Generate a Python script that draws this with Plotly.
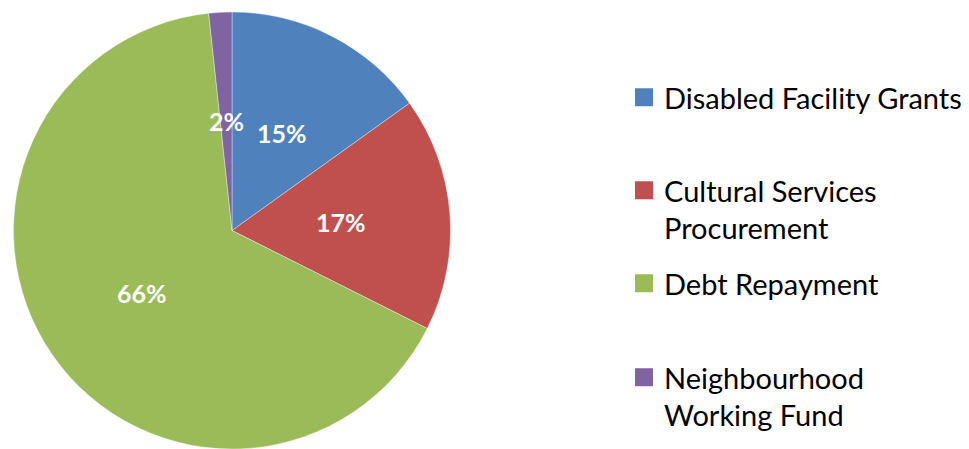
import math
import plotly.graph_objects as go

categories = ["Disabled Facility Grants", "Cultural Services<br>Procurement",
              "Debt Repayment", "Neighbourhood<br>Working Fund"]
values = [15.1, 17.3, 65.9, 1.7]
colors = ["#4F81BD", "#C0504D", "#9BBB59", "#8064A2"]

W, H = 969, 449
R = 218.5
CX, TOP = 232, 12
dom_x = [(CX - R) / W, (CX + R) / W]
dom_y = [1 - (TOP + 2 * R) / H, 1 - TOP / H]

fig = go.Figure(go.Pie(
    labels=categories,
    values=values,
    sort=False,
    direction="clockwise",
    rotation=0,
    marker=dict(colors=colors, line=dict(color="rgba(255,255,255,0.45)", width=0.8)),
    textinfo="none",
    hoverinfo="label+percent",
    showlegend=False,
    domain=dict(x=dom_x, y=dom_y),
))

# percentage labels at half radius along each slice's mid-angle
cx = (dom_x[0] + dom_x[1]) / 2
cy = (dom_y[0] + dom_y[1]) / 2
r_px = min((dom_x[1] - dom_x[0]) * W, (dom_y[1] - dom_y[0]) * H) / 2
total = sum(values)
cum = 0
for v in values:
    mid = (cum + v / 2) / total * 2 * math.pi
    cum += v
    dx = 0.5 * r_px * math.sin(mid) / W
    dy = 0.5 * r_px * math.cos(mid) / H
    fig.add_annotation(x=cx + dx, y=cy + dy, xref="paper", yref="paper",
                       xanchor="center", yanchor="middle",
                       text=f"{round(v / total * 100)}%", showarrow=False,
                       font=dict(family="Lato", size=25, color="white", weight="bold"))

# legend: one entry per category, each in its own evenly spaced legend box
legend_tops = [72, 165, 258, 352]
legend_font = dict(family="Lato", size=29, color="black")
layout_legends = {}
for i, (name, col) in enumerate(zip(categories, colors)):
    key = "legend" if i == 0 else f"legend{i + 1}"
    fig.add_trace(go.Scatter(
        x=[None], y=[None], mode="markers", name=name, legend=key,
        marker=dict(symbol="square", size=16, color=col, line=dict(color=col, width=2)),
        hoverinfo="skip", showlegend=True,
    ))
    layout_legends[key] = dict(x=624 / W, y=1 - legend_tops[i] / H,
                               xanchor="left", yanchor="top",
                               font=legend_font, valign="top",
                               bgcolor="rgba(0,0,0,0)")

fig.update_layout(
    width=W, height=H,
    margin=dict(l=0, r=0, t=0, b=0),
    paper_bgcolor="white",
    plot_bgcolor="white",
    xaxis=dict(visible=False),
    yaxis=dict(visible=False),
    **layout_legends,
)

fig.write_html("out.html", config={"displayModeBar": False},
               post_script="document.body.style.margin='0';document.body.style.overflow='hidden';")
